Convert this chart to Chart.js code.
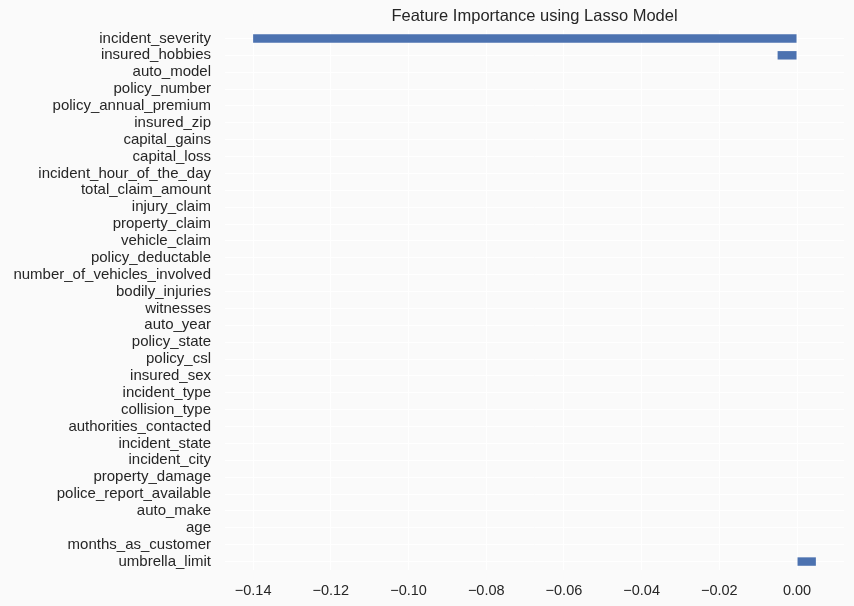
<!DOCTYPE html>
<html>
<head>
<meta charset="utf-8">
<script src="https://cdn.jsdelivr.net/npm/chart.js@4"></script>
<style>
  html, body { margin: 0; padding: 0; background: #fafafa; }
  #wrap { width: 854px; height: 606px; }
</style>
</head>
<body>
<div id="wrap"><canvas id="c" width="854" height="606"></canvas></div>
<script>
const categories = [
  "incident_severity", "insured_hobbies", "auto_model", "policy_number",
  "policy_annual_premium", "insured_zip", "capital_gains", "capital_loss",
  "incident_hour_of_the_day", "total_claim_amount", "injury_claim", "property_claim",
  "vehicle_claim", "policy_deductable", "number_of_vehicles_involved", "bodily_injuries",
  "witnesses", "auto_year", "policy_state", "policy_csl", "insured_sex",
  "incident_type", "collision_type", "authorities_contacted", "incident_state",
  "incident_city", "property_damage", "police_report_available", "auto_make",
  "age", "months_as_customer", "umbrella_limit"
];
const importance = [
  -0.1400, -0.0050, 0, 0,
  0, 0, 0, 0,
  0, 0, 0, 0,
  0, 0, 0, 0,
  0, 0, 0, 0, 0,
  0, 0, 0, 0,
  0, 0, 0, 0,
  0, 0, 0.00485
];
const xTicks = [-0.14, -0.12, -0.10, -0.08, -0.06, -0.04, -0.02, 0.00];
const titleText = "Feature Importance using Lasso Model";

const FONT = "'Liberation Sans', Arial, sans-serif";
const TEXT = "#262626";

const bgPlugin = {
  id: 'bg',
  beforeDraw(chart) {
    const ctx = chart.ctx;
    ctx.save();
    ctx.fillStyle = '#fafafa';
    ctx.fillRect(0, 0, chart.width, chart.height);
    ctx.restore();
  }
};
const titlePlugin = {
  id: 'ttl',
  afterDraw(chart) {
    const ctx = chart.ctx, a = chart.chartArea;
    ctx.save();
    ctx.fillStyle = TEXT;
    ctx.font = "16.5px " + FONT;
    ctx.textAlign = 'center';
    ctx.textBaseline = 'middle';
    ctx.fillText(titleText, (a.left + a.right) / 2, 16.5);
    ctx.restore();
  }
};

new Chart(document.getElementById('c'), {
  type: 'bar',
  data: {
    labels: categories,
    datasets: [{
      data: importance,
      backgroundColor: '#4c72b0',
      borderWidth: 0,
      barPercentage: 0.5,
      categoryPercentage: 1.0
    }]
  },
  options: {
    indexAxis: 'y',
    responsive: false,
    animation: false,
    devicePixelRatio: 1,
    layout: { padding: { top: 30, right: 10, left: 0, bottom: 0 } },
    plugins: { legend: { display: false }, tooltip: { enabled: false }, title: { display: false } },
    scales: {
      x: {
        type: 'linear',
        min: -0.14724,
        max: 0.01209,
        afterBuildTicks(axis) { axis.ticks = xTicks.map(v => ({ value: v })); },
        afterFit(axis) { axis.height = 36; },
        ticks: {
          color: TEXT,
          font: { family: FONT, size: 14.5 },
          padding: 12,
          callback: (v) => Number(v).toFixed(2).replace('-', '\u2212')
        },
        grid: { color: '#ffffff', lineWidth: 1, drawTicks: false },
        border: { display: false }
      },
      y: {
        type: 'category',
        offset: true,
        afterFit(axis) { axis.width = 225; },
        ticks: {
          color: TEXT,
          font: { family: FONT, size: 15 },
          padding: 14,
          autoSkip: false
        },
        grid: { color: '#ffffff', lineWidth: 1, drawTicks: false, offset: false },
        border: { display: false }
      }
    }
  },
  plugins: [bgPlugin, titlePlugin]
});
</script>
</body>
</html>
